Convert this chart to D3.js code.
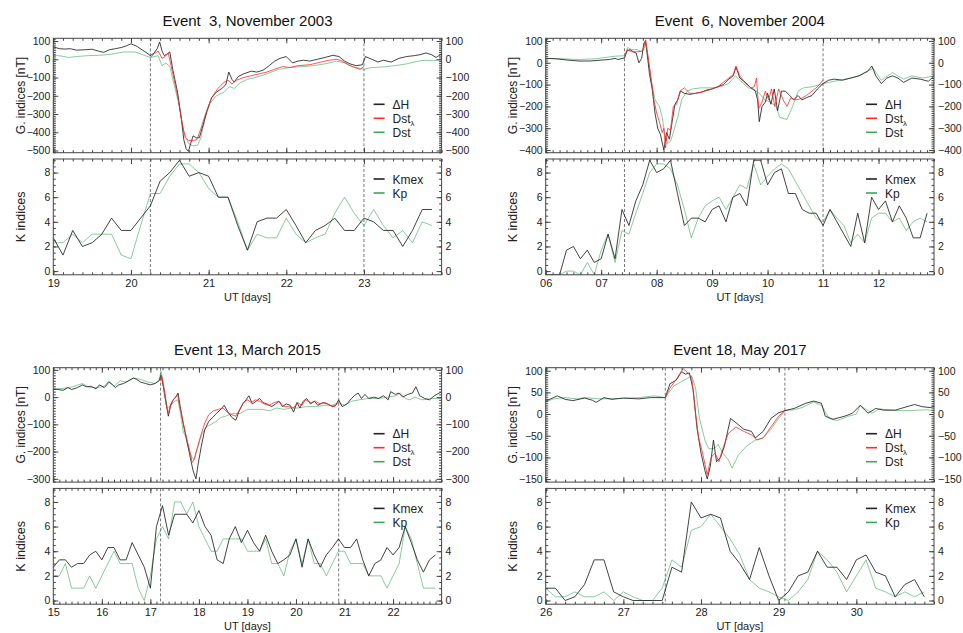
<!DOCTYPE html>
<html>
<head>
<meta charset="utf-8">
<script src="https://cdn.jsdelivr.net/npm/d3@7"></script>
<style>
  body { margin: 0; background: #fff; }
  svg { font-family: "Liberation Sans", Arial, Helvetica, sans-serif; }
</style>
</head>
<body>
<div id="chart"></div>
<script>
const width = 963;
const height = 633;

const colors = { dH: '#222', dstL: '#ff2a2a', dst: '#3aa85a' };

// ---- Event 3, November 2003
const ev3Title = 'Event  3, November 2003';
const ev3Days = [19, 24];
const ev3TickDays = [19, 20, 21, 22, 23];
const ev3TickLabels = ['19', '20', '21', '22', '23'];
const ev3GRange = [-512, 115];
const ev3GTicks = [100, 0, -100, -200, -300, -400, -500];
const ev3Marks = [20.25, 23.0];
const ev3DH = [[19.0,68],[19.08,58],[19.15,56],[19.22,58],[19.3,50],[19.4,52],[19.5,55],[19.58,45],[19.65,38],[19.72,52],[19.8,58],[19.88,65],[19.95,75],[20.0,85],[20.08,70],[20.15,50],[20.22,30],[20.25,20],[20.3,35],[20.34,60],[20.37,95],[20.4,45],[20.43,20],[20.47,30],[20.5,40],[20.54,-60],[20.6,-180],[20.65,-330],[20.68,-440],[20.71,-490],[20.74,-505],[20.77,-460],[20.8,-420],[20.84,-430],[20.88,-430],[20.93,-360],[20.98,-280],[21.04,-210],[21.1,-180],[21.17,-160],[21.22,-140],[21.26,-70],[21.3,-110],[21.33,-125],[21.38,-95],[21.45,-80],[21.55,-65],[21.62,-70],[21.7,-60],[21.78,-35],[21.85,-10],[21.92,5],[22.0,15],[22.08,-20],[22.15,-10],[22.22,-5],[22.3,-10],[22.4,0],[22.5,10],[22.6,22],[22.68,15],[22.75,-10],[22.82,-25],[22.9,-35],[22.98,-30],[23.02,15],[23.1,0],[23.18,-15],[23.25,-5],[23.35,-15],[23.45,5],[23.55,15],[23.65,20],[23.72,25],[23.8,35],[23.87,25],[23.93,10],[24.0,30]];
const ev3DstL = [[20.25,10],[20.3,30],[20.35,45],[20.4,5],[20.44,15],[20.48,35],[20.54,-80],[20.6,-200],[20.65,-330],[20.7,-430],[20.74,-445],[20.8,-445],[20.85,-440],[20.9,-380],[20.96,-300],[21.04,-210],[21.12,-160],[21.2,-125],[21.25,-115],[21.3,-135],[21.36,-115],[21.45,-100],[21.55,-90],[21.65,-80],[21.75,-70],[21.85,-55],[21.95,-40],[22.05,-45],[22.15,-35],[22.3,-30],[22.45,-15],[22.55,-5],[22.65,0],[22.72,-10],[22.8,-30],[22.88,-45],[22.95,-55],[23.0,-40]];
const ev3Dst = [[19.0,22],[19.1,18],[19.2,10],[19.3,15],[19.45,20],[19.6,22],[19.75,28],[19.9,40],[20.05,40],[20.15,25],[20.25,10],[20.35,20],[20.4,-35],[20.45,-20],[20.5,-40],[20.55,-130],[20.62,-250],[20.68,-400],[20.74,-460],[20.8,-475],[20.86,-470],[20.9,-430],[20.95,-330],[21.02,-240],[21.1,-200],[21.2,-180],[21.27,-150],[21.33,-160],[21.4,-130],[21.5,-110],[21.6,-100],[21.75,-80],[21.9,-55],[22.05,-45],[22.2,-40],[22.35,-35],[22.5,-25],[22.65,-10],[22.75,-20],[22.85,-40],[23.0,-55],[23.1,-45],[23.25,-42],[23.4,-35],[23.55,-25],[23.7,-10],[23.8,-5],[23.9,-8],[24.0,0]];
const ev3Kmex = [2.7,1.3,3.3,2.0,2.3,3.0,4.3,3.3,3.3,4.3,5.3,7.3,8.0,9.0,7.7,8.0,7.7,6.0,6.0,3.7,1.7,4.0,4.3,4.3,5.0,3.7,2.3,3.3,3.7,4.3,3.3,3.3,4.3,4.0,3.3,3.3,2.0,3.3,5.0,5.0];
const ev3Kp = [2.3,2.3,3.0,2.3,3.0,3.0,3.0,1.3,1.0,3.7,6.3,6.3,7.7,8.7,8.7,8.0,6.7,6.0,6.0,4.0,1.7,3.0,2.7,2.7,4.3,3.0,2.3,2.7,3.0,4.7,6.0,4.7,3.7,5.0,3.7,2.7,3.3,2.3,4.0,3.7];

// ---- Event 6, November 2004
const ev6Title = 'Event  6, November 2004';
const ev6Days = [6, 13];
const ev6TickDays = [6, 7, 8, 9, 10, 11, 12];
const ev6TickLabels = ['06', '07', '08', '09', '10', '11', '12'];
const ev6GRange = [-412, 112];
const ev6GTicks = [100, 0, -100, -200, -300, -400];
const ev6Marks = [7.42, 11.0];
const ev6DH = [[6.0,20],[6.2,18],[6.4,12],[6.6,8],[6.8,8],[7.0,12],[7.15,15],[7.25,20],[7.3,15],[7.42,22],[7.47,55],[7.52,60],[7.58,50],[7.63,45],[7.68,0],[7.73,20],[7.77,90],[7.8,100],[7.83,40],[7.87,-50],[7.92,-120],[7.97,-230],[8.02,-300],[8.07,-330],[8.13,-400],[8.18,-320],[8.23,-350],[8.28,-270],[8.33,-190],[8.38,-170],[8.43,-130],[8.5,-140],[8.6,-145],[8.7,-140],[8.8,-135],[8.9,-125],[9.0,-120],[9.1,-110],[9.2,-100],[9.3,-75],[9.38,-60],[9.43,-20],[9.5,-70],[9.6,-90],[9.7,-115],[9.78,-130],[9.82,-170],[9.85,-270],[9.9,-200],[9.96,-180],[10.0,-140],[10.06,-190],[10.12,-120],[10.18,-220],[10.25,-130],[10.32,-130],[10.4,-150],[10.47,-170],[10.55,-150],[10.62,-170],[10.7,-160],[10.8,-150],[10.9,-120],[11.0,-95],[11.1,-80],[11.2,-75],[11.35,-80],[11.5,-70],[11.65,-60],[11.75,-45],[11.8,-40],[11.88,-15],[11.95,-60],[12.05,-95],[12.15,-70],[12.25,-60],[12.35,-70],[12.45,-90],[12.6,-70],[12.75,-75],[12.9,-85],[13.0,-60]];
const ev6DstL = [[7.42,25],[7.47,60],[7.55,50],[7.65,50],[7.75,55],[7.8,105],[7.84,40],[7.9,-70],[7.95,-170],[8.0,-230],[8.06,-280],[8.1,-320],[8.13,-300],[8.16,-390],[8.2,-300],[8.25,-310],[8.3,-200],[8.36,-190],[8.42,-130],[8.5,-115],[8.6,-140],[8.7,-140],[8.8,-135],[8.95,-125],[9.1,-110],[9.2,-90],[9.3,-70],[9.38,-55],[9.43,-15],[9.5,-60],[9.6,-95],[9.7,-115],[9.76,-110],[9.8,-70],[9.84,-210],[9.9,-180],[9.96,-130],[10.02,-170],[10.07,-120],[10.13,-200],[10.2,-120],[10.28,-170],[10.35,-200],[10.42,-160],[10.5,-170],[10.6,-165],[10.7,-150],[10.8,-130],[10.9,-110],[11.0,-80]];
const ev6Dst = [[6.0,20],[6.3,18],[6.6,15],[6.9,18],[7.1,25],[7.25,30],[7.42,32],[7.48,70],[7.55,60],[7.65,60],[7.72,50],[7.77,60],[7.8,90],[7.84,30],[7.9,-80],[7.97,-170],[8.05,-200],[8.1,-250],[8.15,-330],[8.2,-370],[8.25,-360],[8.3,-320],[8.38,-250],[8.45,-170],[8.55,-130],[8.65,-120],[8.8,-115],[9.0,-115],[9.15,-110],[9.3,-95],[9.42,-60],[9.52,-85],[9.65,-115],[9.75,-120],[9.85,-140],[9.95,-170],[10.05,-180],[10.15,-200],[10.22,-250],[10.35,-260],[10.45,-200],[10.55,-130],[10.65,-115],[10.8,-110],[10.95,-100],[11.1,-90],[11.3,-80],[11.5,-70],[11.7,-55],[11.9,-25],[12.05,-80],[12.25,-45],[12.45,-75],[12.6,-60],[12.8,-70],[13.0,-60]];
const ev6Kmex = [-0.3,-0.3,-0.3,1.7,2.0,1.0,1.7,0.7,1.0,3.0,1.0,5.0,3.7,5.7,7.0,9.0,8.0,8.3,9.0,6.3,3.7,4.3,4.3,4.0,5.0,5.3,4.0,6.0,6.3,5.3,9.0,9.0,7.0,8.0,8.3,6.3,6.3,5.0,4.7,4.7,3.7,5.0,4.0,3.0,2.0,4.7,2.3,6.0,5.0,5.7,4.0,5.3,4.3,2.7,2.7,4.7];
const ev6Kp = [-0.3,-0.3,-0.3,0.0,0.0,-0.3,0.7,-0.3,1.7,3.0,0.7,3.3,3.0,4.7,6.3,8.0,8.7,8.7,8.3,7.0,5.0,2.7,4.3,5.3,5.7,6.0,5.0,6.0,7.0,6.7,8.7,7.0,7.7,8.3,8.7,8.3,7.3,6.3,5.3,4.3,4.0,5.0,4.3,3.7,2.3,3.0,2.3,4.3,4.7,4.7,4.0,4.3,3.3,4.0,4.3,4.0];

// ---- Event 13, March 2015
const ev13Title = 'Event 13, March 2015';
const ev13Days = [15, 23];
const ev13TickDays = [15, 16, 17, 18, 19, 20, 21, 22];
const ev13TickLabels = ['15', '16', '17', '18', '19', '20', '21', '22'];
const ev13GRange = [-312, 108];
const ev13GTicks = [100, 0, -100, -200, -300];
const ev13Marks = [17.21, 20.88];
const ev13DH = [[15.0,30],[15.1,28],[15.2,25],[15.3,35],[15.38,28],[15.5,35],[15.6,45],[15.68,38],[15.78,40],[15.88,30],[15.95,45],[16.05,35],[16.15,55],[16.22,45],[16.28,35],[16.35,45],[16.45,50],[16.55,60],[16.65,70],[16.72,65],[16.8,55],[16.9,50],[17.0,45],[17.1,50],[17.18,60],[17.22,80],[17.27,35],[17.32,-20],[17.37,-70],[17.42,-30],[17.47,-10],[17.52,0],[17.57,15],[17.62,-40],[17.68,-100],[17.75,-160],[17.82,-220],[17.88,-270],[17.94,-300],[17.98,-250],[18.05,-180],[18.12,-120],[18.2,-90],[18.28,-75],[18.36,-60],[18.45,-45],[18.52,-30],[18.6,-55],[18.68,-75],[18.76,-85],[18.82,-55],[18.9,-25],[18.97,-10],[19.03,5],[19.1,-25],[19.18,-15],[19.25,-5],[19.32,-20],[19.4,-25],[19.5,-35],[19.58,-25],[19.65,-15],[19.72,-35],[19.8,-25],[19.88,-30],[19.95,-55],[20.02,-20],[20.08,-40],[20.15,-15],[20.22,-5],[20.3,-25],[20.38,-15],[20.45,-30],[20.55,-20],[20.65,-25],[20.75,-35],[20.82,-30],[20.88,-10],[20.95,-35],[21.05,-25],[21.12,-10],[21.2,5],[21.28,15],[21.35,-5],[21.42,10],[21.5,-5],[21.6,0],[21.7,-5],[21.8,5],[21.9,-10],[21.95,20],[22.05,10],[22.12,15],[22.2,0],[22.3,10],[22.4,15],[22.47,38],[22.55,5],[22.65,-5],[22.75,-10],[22.85,5],[22.95,15],[23.0,20]];
const ev13DstL = [[17.21,60],[17.23,80],[17.28,30],[17.33,-30],[17.37,-60],[17.42,-25],[17.47,-10],[17.52,0],[17.56,10],[17.6,-30],[17.66,-80],[17.72,-130],[17.8,-190],[17.86,-240],[17.9,-230],[17.96,-190],[18.04,-140],[18.12,-95],[18.2,-65],[18.3,-50],[18.4,-45],[18.5,-40],[18.58,-55],[18.68,-65],[18.76,-70],[18.84,-45],[18.92,-20],[19.0,-10],[19.08,-20],[19.16,-10],[19.25,-15],[19.35,-25],[19.45,-30],[19.55,-20],[19.65,-15],[19.75,-35],[19.85,-35],[19.95,-40],[20.03,-20],[20.12,-30],[20.2,-10],[20.3,-20],[20.4,-15],[20.5,-25],[20.6,-20],[20.7,-30],[20.8,-35],[20.88,-15]];
const ev13Dst = [[15.0,30],[15.2,32],[15.4,38],[15.6,50],[15.75,35],[15.9,35],[16.05,40],[16.15,60],[16.25,40],[16.38,60],[16.5,55],[16.65,70],[16.8,65],[16.95,55],[17.1,50],[17.18,65],[17.22,95],[17.28,40],[17.35,-40],[17.42,-30],[17.5,-15],[17.57,-10],[17.62,-60],[17.68,-130],[17.73,-145],[17.78,-180],[17.85,-220],[17.9,-230],[17.97,-190],[18.05,-140],[18.15,-110],[18.25,-100],[18.35,-90],[18.45,-75],[18.55,-70],[18.7,-60],[18.85,-60],[19.0,-45],[19.15,-45],[19.3,-45],[19.45,-50],[19.6,-40],[19.75,-45],[19.9,-40],[20.05,-40],[20.2,-35],[20.4,-35],[20.6,-30],[20.75,-30],[20.88,-20],[21.0,-30],[21.15,-15],[21.3,-10],[21.5,-5],[21.7,-5],[21.9,0],[22.05,5],[22.15,15],[22.25,-5],[22.35,-10],[22.45,0],[22.6,-10],[22.8,-5],[23.0,-5]];
const ev13Kmex = [2.7,3.3,3.3,2.7,3.0,3.0,3.7,4.0,3.3,4.3,4.3,3.3,3.3,4.7,3.7,2.7,1.0,6.0,7.7,5.3,7.0,7.0,7.0,6.3,7.3,6.0,5.3,3.3,3.0,5.0,6.0,4.7,5.7,4.7,4.0,5.3,4.0,3.0,3.3,3.7,5.0,2.7,5.0,3.7,2.7,3.7,4.3,5.0,4.3,4.3,5.0,3.3,2.0,3.0,3.3,4.3,3.7,4.3,6.0,4.7,3.3,2.3,3.3,3.7];
const ev13Kp = [2.0,2.0,3.0,1.0,1.0,1.0,2.0,1.0,2.0,3.0,4.0,3.0,3.0,3.0,1.0,0.0,2.0,5.0,6.0,5.0,8.0,8.0,7.0,8.0,6.0,5.0,4.0,4.0,5.0,5.0,5.0,5.0,4.0,4.0,4.0,5.0,3.0,3.0,2.0,4.0,5.0,3.0,5.0,3.0,3.0,2.0,3.0,4.0,4.0,3.0,3.0,3.0,2.0,2.0,2.0,1.0,2.0,3.0,6.0,5.0,3.0,1.0,1.0,1.0];

// ---- Event 18, May 2017
const ev18Title = 'Event 18, May 2017';
const ev18Days = [26, 31];
const ev18TickDays = [26, 27, 28, 29, 30];
const ev18TickLabels = ['26', '27', '28', '29', '30'];
const ev18GRange = [-157, 107];
const ev18GTicks = [100, 50, 0, -50, -100, -150];
const ev18Marks = [27.54, 29.08];
const ev18DH = [[26.0,30],[26.1,38],[26.15,42],[26.25,34],[26.35,31],[26.5,37],[26.6,32],[26.65,27],[26.75,38],[26.85,34],[27.0,37],[27.2,35],[27.35,38],[27.54,38],[27.6,70],[27.68,78],[27.75,98],[27.8,92],[27.85,95],[27.9,55],[27.95,-35],[28.0,-90],[28.05,-130],[28.08,-150],[28.12,-120],[28.16,-60],[28.2,-110],[28.25,-100],[28.3,-75],[28.38,-10],[28.45,-20],[28.55,-35],[28.65,-40],[28.7,-55],[28.8,-40],[28.9,-10],[29.0,3],[29.08,8],[29.2,13],[29.35,25],[29.45,30],[29.55,25],[29.6,-5],[29.7,-12],[29.85,-5],[29.95,2],[30.05,20],[30.15,2],[30.25,13],[30.35,9],[30.5,9],[30.65,17],[30.75,22],[30.85,17],[30.95,15],[31.0,18]];
const ev18DstL = [[27.54,38],[27.6,60],[27.68,80],[27.77,105],[27.83,95],[27.88,85],[27.93,0],[27.97,-55],[28.02,-90],[28.08,-140],[28.13,-100],[28.18,-90],[28.23,-110],[28.28,-80],[28.35,-45],[28.45,-30],[28.55,-40],[28.65,-48],[28.72,-60],[28.8,-55],[28.9,-30],[29.0,-5],[29.08,8]];
const ev18Dst = [[26.0,28],[26.1,35],[26.25,38],[26.4,35],[26.5,38],[26.7,35],[27.0,36],[27.2,38],[27.4,42],[27.54,38],[27.65,65],[27.75,75],[27.88,88],[27.93,60],[27.98,-10],[28.05,-60],[28.1,-80],[28.17,-80],[28.22,-70],[28.28,-90],[28.35,-105],[28.4,-125],[28.48,-95],[28.58,-75],[28.7,-60],[28.8,-55],[28.9,-35],[29.0,-10],[29.08,8],[29.2,10],[29.3,15],[29.45,28],[29.55,20],[29.65,-10],[29.75,-15],[29.9,-5],[30.0,0],[30.05,20],[30.2,2],[30.3,12],[30.5,8],[30.7,8],[30.9,10],[31.0,8]];
const ev18Kmex = [1.0,1.0,0.0,0.3,1.3,3.3,3.3,0.7,0.3,0.0,0.0,0.0,0.0,2.7,2.3,8.0,6.7,7.0,6.7,4.0,3.0,1.7,4.3,2.0,0.0,0.7,2.0,2.3,4.0,2.7,2.7,1.7,3.3,3.7,2.3,2.0,0.3,1.3,1.7,0.3];
const ev18Kp = [1.0,0.3,0.3,0.7,0.3,0.3,0.7,0.0,0.7,0.3,0.0,0.0,1.0,3.3,2.7,5.7,6.0,7.0,6.0,5.0,3.7,1.7,1.0,0.7,0.3,0.0,0.7,1.7,4.0,3.3,2.3,0.7,2.0,3.3,1.0,0.7,0.3,0.7,0.3,0.7];

const kRange = [-0.3, 9.1];
const kTicks = [0, 2, 4, 6, 8];
const kStep = 0.125; // 3-hour K values

const events = [
  { title: ev3Title, days: ev3Days, tickDays: ev3TickDays, tickLabels: ev3TickLabels, gRange: ev3GRange, gTicks: ev3GTicks, marks: ev3Marks, dH: ev3DH, dstL: ev3DstL, dst: ev3Dst, kmex: ev3Kmex, kp: ev3Kp },
  { title: ev6Title, days: ev6Days, tickDays: ev6TickDays, tickLabels: ev6TickLabels, gRange: ev6GRange, gTicks: ev6GTicks, marks: ev6Marks, dH: ev6DH, dstL: ev6DstL, dst: ev6Dst, kmex: ev6Kmex, kp: ev6Kp },
  { title: ev13Title, days: ev13Days, tickDays: ev13TickDays, tickLabels: ev13TickLabels, gRange: ev13GRange, gTicks: ev13GTicks, marks: ev13Marks, dH: ev13DH, dstL: ev13DstL, dst: ev13Dst, kmex: ev13Kmex, kp: ev13Kp },
  { title: ev18Title, days: ev18Days, tickDays: ev18TickDays, tickLabels: ev18TickLabels, gRange: ev18GRange, gTicks: ev18GTicks, marks: ev18Marks, dH: ev18DH, dstL: ev18DstL, dst: ev18Dst, kmex: ev18Kmex, kp: ev18Kp }
];

// layout
const colLeft = [53.3, 545.7];
const rowTop = [38.3, 367.7];
const plotW = 388.3;
const gH = 114.4;
const gap = 6.3;
const kH = 115.8;

const svg = d3.select('#chart').append('svg')
  .attr('width', width)
  .attr('height', height);

const fmt = v => v < 0 ? '\u2212' + Math.abs(v) : String(v);

function range(a, b, step) {
  const out = [];
  const n = Math.round((b - a) / step);
  for (let i = 0; i <= n; i++) out.push(+(a + i * step).toFixed(4));
  return out;
}

function frame(g, left, top, h) {
  g.append('rect')
    .attr('x', left).attr('y', top)
    .attr('width', plotW).attr('height', h)
    .attr('fill', 'none')
    .attr('stroke', '#444')
    .attr('stroke-width', 1);
}

function styleAxis(sel) {
  sel.select('.domain').remove();
  sel.selectAll('.tick line').attr('stroke', '#444');
  sel.selectAll('.tick text').attr('fill', '#222').style('font-size', '10.5px');
}

function yAxes(g, y, left, majors, minorStep) {
  const dom = y.domain();
  const minors = range(Math.ceil(dom[0] / minorStep) * minorStep, Math.floor(dom[1] / minorStep) * minorStep, minorStep);
  g.append('g').attr('transform', `translate(${left},0)`)
    .call(d3.axisLeft(y).tickValues(minors).tickSize(-2.5).tickFormat(''))
    .call(styleAxis);
  g.append('g').attr('transform', `translate(${left + plotW},0)`)
    .call(d3.axisRight(y).tickValues(minors).tickSize(-2.5).tickFormat(''))
    .call(styleAxis);
  g.append('g').attr('transform', `translate(${left},0)`)
    .call(d3.axisLeft(y).tickValues(majors).tickSize(-5).tickPadding(3).tickFormat(fmt))
    .call(styleAxis);
  g.append('g').attr('transform', `translate(${left + plotW},0)`)
    .call(d3.axisRight(y).tickValues(majors).tickSize(-5).tickPadding(4).tickFormat(fmt))
    .call(styleAxis);
}

function xAxes(g, x, ev, top, bottom, labels) {
  const minors = range(ev.days[0], ev.days[1], kStep);
  [top, bottom].forEach((yy, j) => {
    const mk = j === 0 ? d3.axisTop : d3.axisBottom;
    g.append('g').attr('transform', `translate(0,${yy})`)
      .call(mk(x).tickValues(minors).tickSize(-2.5).tickFormat(''))
      .call(styleAxis);
    g.append('g').attr('transform', `translate(0,${yy})`)
      .call(mk(x).tickValues(ev.tickDays).tickSize(-5).tickFormat(''))
      .call(styleAxis);
  });
  if (labels) {
    g.append('g').attr('transform', `translate(0,${bottom})`)
      .call(d3.axisBottom(x).tickValues(ev.tickDays).tickSize(0).tickPadding(4)
        .tickFormat((d, i) => ev.tickLabels[i]))
      .call(styleAxis)
      .selectAll('.tick text').style('font-size', '11px');
  }
}

function legend(g, right, top, items) {
  items.forEach((it, i) => {
    const yy = top + i * 14;
    g.append('line')
      .attr('x1', right - 68).attr('x2', right - 57)
      .attr('y1', yy).attr('y2', yy)
      .attr('stroke', it.color).attr('stroke-width', 1.6);
    const t = g.append('text')
      .attr('x', right - 49).attr('y', yy + 4.5)
      .attr('fill', '#222')
      .style('font-size', '12px')
      .text(it.label);
    if (it.sub) {
      t.append('tspan').attr('dy', 3).style('font-size', '8px').text(it.sub);
    }
  });
}

function drawEvent(ev, idx) {
  const left = colLeft[idx % 2];
  const gTop = rowTop[Math.floor(idx / 2)];
  const kTop = gTop + gH + gap;
  const right = left + plotW;
  const g = svg.append('g').attr('class', 'event');

  const x = d3.scaleLinear().domain(ev.days).range([left, right]);
  const yG = d3.scaleLinear().domain(ev.gRange).range([gTop + gH, gTop]);
  const yK = d3.scaleLinear().domain(kRange).range([kTop + kH, kTop]);

  // title (keeps the double space of the original)
  g.append('text')
    .attr('x', (left + right) / 2).attr('y', gTop - 12.5)
    .attr('text-anchor', 'middle')
    .attr('fill', '#111')
    .style('font-size', '15px')
    .style('white-space', 'pre')
    .text(ev.title);

  // clip paths
  const defs = g.append('defs');
  defs.append('clipPath').attr('id', `clipG${idx}`)
    .append('rect').attr('x', left).attr('y', gTop).attr('width', plotW).attr('height', gH);
  defs.append('clipPath').attr('id', `clipK${idx}`)
    .append('rect').attr('x', left).attr('y', kTop).attr('width', plotW).attr('height', kH);

  // storm interval markers
  ev.marks.forEach(m => {
    [[gTop, gTop + gH], [kTop, kTop + kH]].forEach(([a, b]) => {
      g.append('line')
        .attr('x1', x(m)).attr('x2', x(m))
        .attr('y1', a).attr('y2', b)
        .attr('stroke', '#555')
        .attr('stroke-width', 0.8)
        .attr('stroke-dasharray', '3,2');
    });
  });

  // G indices
  const lineG = d3.line().x(d => x(d[0])).y(d => yG(d[1]));
  const gPlot = g.append('g').attr('clip-path', `url(#clipG${idx})`);
  gPlot.append('path').datum(ev.dst).attr('d', lineG)
    .attr('fill', 'none').attr('stroke', colors.dst).attr('stroke-width', 1).attr('stroke-opacity', 0.6);
  gPlot.append('path').datum(ev.dH).attr('d', lineG)
    .attr('fill', 'none').attr('stroke', colors.dH).attr('stroke-width', 1).attr('stroke-opacity', 0.85);
  gPlot.append('path').datum(ev.dstL).attr('d', lineG)
    .attr('fill', 'none').attr('stroke', colors.dstL).attr('stroke-width', 1).attr('stroke-opacity', 0.8);

  // K indices
  const lineK = d3.line().x((d, i) => x(ev.days[0] + i * kStep)).y(d => yK(d));
  const kPlot = g.append('g').attr('clip-path', `url(#clipK${idx})`);
  kPlot.append('path').datum(ev.kp).attr('d', lineK)
    .attr('fill', 'none').attr('stroke', colors.dst).attr('stroke-width', 1).attr('stroke-opacity', 0.6);
  kPlot.append('path').datum(ev.kmex).attr('d', lineK)
    .attr('fill', 'none').attr('stroke', colors.dH).attr('stroke-width', 1).attr('stroke-opacity', 0.85);

  // axes
  yAxes(g, yG, left, ev.gTicks, (ev.gTicks[0] - ev.gTicks[1]) / 10);
  yAxes(g, yK, left, kTicks, 0.5);
  xAxes(g, x, ev, gTop, gTop + gH, false);
  xAxes(g, x, ev, kTop, kTop + kH, true);
  frame(g, left, gTop, gH);
  frame(g, left, kTop, kH);

  // axis titles
  g.append('text')
    .attr('transform', `translate(${left - 33},${gTop + gH / 2}) rotate(-90)`)
    .attr('text-anchor', 'middle').attr('dy', '0.35em')
    .attr('fill', '#222').style('font-size', '12px')
    .text('G. indices [nT]');
  g.append('text')
    .attr('transform', `translate(${left - 33},${kTop + kH / 2}) rotate(-90)`)
    .attr('text-anchor', 'middle').attr('dy', '0.35em')
    .attr('fill', '#222').style('font-size', '12.5px')
    .text('K indices');
  g.append('text')
    .attr('x', (left + right) / 2).attr('y', kTop + kH + 26)
    .attr('text-anchor', 'middle')
    .attr('fill', '#222').style('font-size', '11px')
    .text('UT [days]');

  // legends
  legend(g, right, gTop + 66, [
    { label: '\u0394H', color: colors.dH },
    { label: 'Dst', sub: '\u03bb', color: colors.dstL },
    { label: 'Dst', color: colors.dst }
  ]);
  legend(g, right, kTop + 20, [
    { label: 'Kmex', color: colors.dH },
    { label: 'Kp', color: colors.dst }
  ]);
}

events.forEach((ev, i) => drawEvent(ev, i));
</script>
</body>
</html>
